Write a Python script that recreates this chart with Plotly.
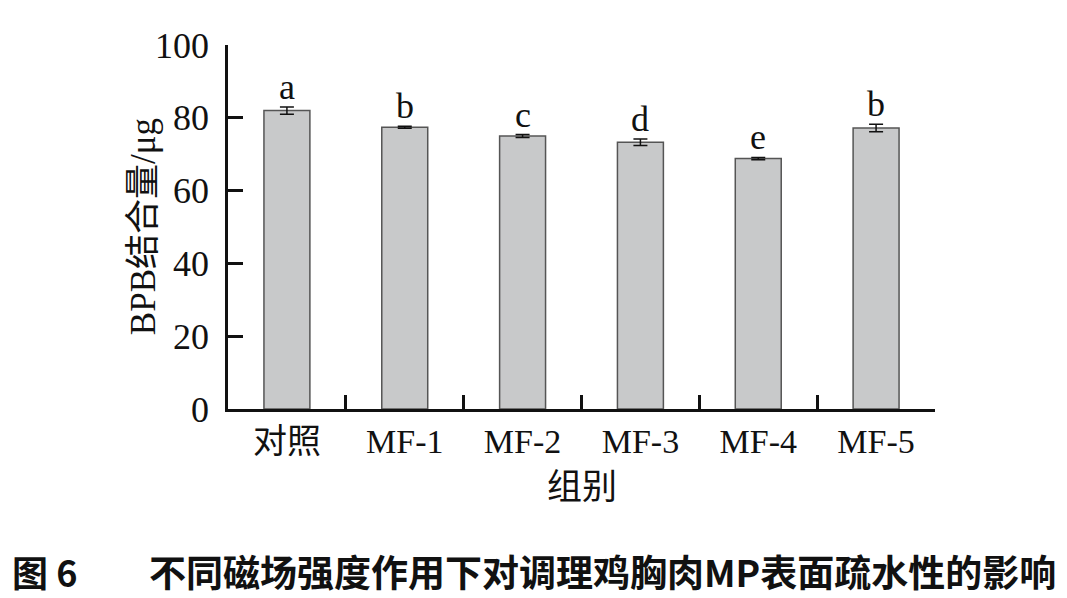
import plotly.graph_objects as go

categories = ["对照", "MF-1", "MF-2", "MF-3", "MF-4", "MF-5"]
values = [82.0, 77.4, 75.0, 73.3, 68.8, 77.2]
errors = [1.0, 0.3, 0.4, 0.9, 0.3, 1.0]
letters = ["a", "b", "c", "d", "e", "b"]
y_ticks = [0, 20, 40, 60, 80, 100]

SERIF = "Liberation Serif, Times New Roman, Noto Sans CJK SC, serif"
FS = 35

fig = go.Figure()
fig.add_trace(go.Bar(
    x=categories, y=values, width=0.39,
    marker=dict(color="#c8c9ca", line=dict(color="#555555", width=1.5)),
    error_y=dict(type="data", array=errors, visible=True, color="#111111",
                 thickness=1.5, width=7),
    showlegend=False, hoverinfo="skip",
))

for c, v, e, l in zip(categories, values, errors, letters):
    fig.add_annotation(x=c, y=v + e, text=l, showarrow=False, xref="x", yref="y",
                       yanchor="bottom", yshift=-2,
                       font=dict(family=SERIF, size=36, color="#111111"))

# axis titles
fig.add_annotation(x=0.5, y=-0.215, xref="paper", yref="paper", text="组别",
                   showarrow=False, yanchor="middle",
                   font=dict(family=SERIF, size=FS, color="#111111"))
fig.add_annotation(x=-0.12, y=0.5, xref="paper", yref="paper", text="BPB结合量/μg",
                   showarrow=False, textangle=-90, xanchor="center", yanchor="middle",
                   font=dict(family=SERIF, size=FS, color="#111111"))

# caption
W = 707.0
H = 364.0
def px(xp):
    return (xp - 228) / W
def py(yp):
    return (409 - yp) / H
fig.add_annotation(x=px(10), y=py(571), xref="paper", yref="paper", text="<b>图 6</b>",
                   showarrow=False, xanchor="left", yanchor="middle",
                   font=dict(family="Noto Sans CJK SC", size=36, color="#111111"))
fig.add_annotation(x=px(1058), y=py(571), xref="paper", yref="paper",
                   text="<b>不同磁场强度作用下对调理鸡胸肉MP表面疏水性的影响</b>",
                   showarrow=False, xanchor="right", yanchor="middle",
                   font=dict(family="Noto Sans CJK SC", size=37, color="#111111"))

fig.update_layout(
    width=1067, height=598,
    margin=dict(l=228, r=132, t=45, b=189),
    paper_bgcolor="white", plot_bgcolor="white",
    bargap=0.6,
    font=dict(family=SERIF, size=FS, color="#111111"),
    xaxis=dict(
        type="category", range=[-0.5, 5.5], automargin=False,
        showline=True, linecolor="#111111", linewidth=2.5,
        ticks="inside", tickson="boundaries", ticklen=14, tickwidth=2.5, tickcolor="#111111",
        showgrid=False, zeroline=False,
        tickfont=dict(family=SERIF, size=34, color="#111111"),
        ticklabelstandoff=0,
    ),
    yaxis=dict(
        range=[0, 100], tickvals=y_ticks, automargin=False,
        showline=True, linecolor="#111111", linewidth=2.5,
        ticks="inside", ticklen=15, tickwidth=2.5, tickcolor="#111111",
        showgrid=False, zeroline=False,
        tickfont=dict(family=SERIF, size=36, color="#111111"),
        ticklabelstandoff=9,
    ),
)

fig.write_html("out.html", config={"displayModeBar": False},
               post_script="document.body.style.margin='0px';")
